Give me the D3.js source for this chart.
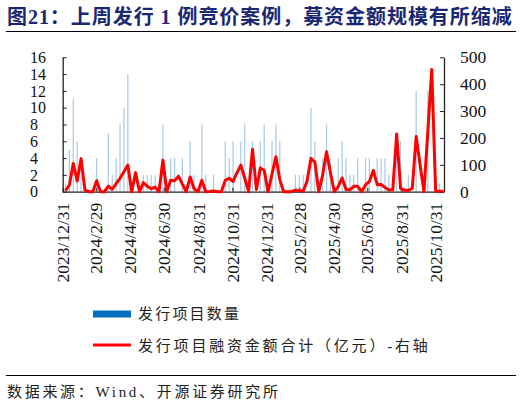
<!DOCTYPE html>
<html>
<head>
<meta charset="utf-8">
<script src="https://cdn.jsdelivr.net/npm/d3@7"></script>
<style>
  body { margin: 0; background: #fff; }
  svg { display: block; }
</style>
</head>
<body>
<svg id="chart" width="522" height="405"></svg>
<script>
// weekly issuance, Fridays from 2024-01-05 to 2025-11-14
const firstWeek = new Date(2024, 0, 5);
const lastWeek = new Date(2025, 10, 14);

// number of issued projects (left axis)
const projectCounts = [
  1, 5, 11, 6, 3, 0, 0, 0, 4, 0,
  0, 7, 2, 4, 8, 10, 14, 0, 0, 0,
  2, 2, 2, 2, 0, 8, 0, 4, 4, 0,
  4, 0, 6, 2, 0, 8, 2, 0, 2, 0,
  0, 6, 4, 6, 0, 6, 8, 0, 6, 0,
  6, 8, 0, 6, 8, 6, 0, 0, 0, 2,
  2, 2, 0, 10, 6, 0, 4, 8, 4, 0,
  4, 6, 4, 2, 2, 4, 0, 4, 4, 0,
  4, 4, 4, 2, 2, 5, 6, 0, 2, 0,
  12, 0, 0, 12, 0, 0, 1, 0
];

// total financing amount, 100 million yuan (right axis)
const financingAmounts = [
  4, 25, 105, 40, 123, 6, 0, 0, 41, 0,
  0, 21, 9, 30, 50, 74, 99, 0, 71, 0,
  34, 20, 11, 17, 0, 117, 0, 43, 41, 58,
  28, 0, 55, 11, 0, 42, 0, 1, 3, 0,
  0, 42, 50, 38, 70, 99, 50, 0, 158, 8,
  88, 80, 0, 65, 130, 45, 0, 0, 0, 6,
  4, 2, 40, 124, 110, 0, 62, 149, 70, 0,
  19, 51, 8, 7, 20, 20, 0, 25, 38, 79,
  26, 27, 16, 6, 7, 215, 12, 5, 5, 12,
  205, 100, 0, 225, 455, 2, 2, 2
];

const xTickLabels = [
  "2023/12/31", "2024/2/29", "2024/4/30", "2024/6/30", "2024/8/31", "2024/10/31",
  "2024/12/31", "2025/2/28", "2025/4/30", "2025/6/30", "2025/8/31", "2025/10/31"
];
const leftTicks = [0, 2, 4, 6, 8, 10, 12, 14, 16];
const rightTicks = [0, 100, 200, 300, 400, 500];

const titleText = "图21：上周发行 1 例竞价案例，募资金额规模有所缩减";
const legendLabels = ["发行项目数量", "发行项目融资金额合计（亿元）-右轴"];
const sourceText = "数据来源：Wind、开源证券研究所";

const weeks = d3.timeFriday.range(firstWeek, d3.timeDay.offset(lastWeek, 1));
const data = weeks.map((d, i) => ({ date: d, count: projectCounts[i], amount: financingAmounts[i] }));

const svg = d3.select("#chart");
const serif = "'Liberation Serif', 'Noto Sans CJK SC', serif";
const cjk = "'Liberation Serif', 'Noto Sans CJK SC', sans-serif";

// plot area
const plot = { left: 62.7, right: 444, top: 57.3, bottom: 191.7 };
const parse = d3.timeParse("%Y/%m/%d");

const x = d3.scaleTime()
  .domain([new Date(2023, 11, 31), new Date(2025, 10, 15)])
  .range([plot.left, plot.right]);
const yL = d3.scaleLinear().domain([0, 16]).range([plot.bottom, plot.top]);
const yR = d3.scaleLinear().domain([0, 500]).range([plot.bottom, plot.top]);

// title
svg.append("text")
  .attr("x", 7).attr("y", 23.5)
  .attr("font-family", cjk).attr("font-size", 20).attr("font-weight", "bold")
  .attr("letter-spacing", 0.95)
  .attr("fill", "#1a2874")
  .text(titleText);
svg.append("line")
  .attr("x1", 6).attr("x2", 516).attr("y1", 31.5).attr("y2", 31.5)
  .attr("stroke", "#000").attr("stroke-width", 1);

// bars
svg.append("g")
  .selectAll("rect")
  .data(data.filter(d => d.count > 0))
  .join("rect")
  .attr("x", d => x(d.date) - 0.6)
  .attr("width", 1.2)
  .attr("y", d => yL(d.count))
  .attr("height", d => yL(0) - yL(d.count))
  .attr("fill", "#a9c9e8");

// x axis
const xAxis = svg.append("g")
  .attr("transform", `translate(0,${plot.bottom})`)
  .call(d3.axisBottom(x)
    .tickValues(xTickLabels.map(parse))
    .tickFormat(d3.timeFormat("%Y/%-m/%-d"))
    .tickSizeInner(-4).tickSizeOuter(0));
xAxis.select(".domain").attr("stroke", "#222").attr("stroke-width", 1.3);
xAxis.selectAll(".tick line").attr("stroke", "#555").attr("stroke-width", 1.6);
xAxis.selectAll(".tick text")
  .attr("font-family", serif).attr("font-size", 17.5).attr("fill", "#111")
  .attr("transform", "rotate(-90)")
  .attr("text-anchor", "end")
  .attr("x", -11).attr("y", 0).attr("dy", "0.33em");

// left axis
const yAxisL = svg.append("g")
  .attr("transform", `translate(${plot.left},0)`)
  .call(d3.axisLeft(yL).tickValues(leftTicks).tickSizeInner(-4).tickSizeOuter(0));
yAxisL.select(".domain").attr("stroke", "#222").attr("stroke-width", 1.3);
yAxisL.selectAll(".tick line").attr("stroke", "#222");
yAxisL.selectAll(".tick text")
  .attr("font-family", serif).attr("font-size", 16).attr("fill", "#111")
  .attr("text-anchor", "start").attr("x", 30 - plot.left);

// right axis
const yAxisR = svg.append("g")
  .attr("transform", `translate(${plot.right},0)`)
  .call(d3.axisRight(yR).tickValues(rightTicks).tickSizeInner(-4).tickSizeOuter(0));
yAxisR.select(".domain").attr("stroke", "#222").attr("stroke-width", 1.3);
yAxisR.selectAll(".tick line").attr("stroke", "#222");
yAxisR.selectAll(".tick text")
  .attr("font-family", serif).attr("font-size", 17.5).attr("fill", "#111")
  .attr("text-anchor", "start").attr("x", 16);

// financing line
const line = d3.line()
  .x(d => x(d.date))
  .y(d => yR(d.amount));
svg.append("path")
  .datum(data)
  .attr("d", line)
  .attr("fill", "none")
  .attr("stroke", "#ff0000")
  .attr("stroke-width", 3)
  .attr("stroke-linejoin", "round");

// legend
svg.append("rect")
  .attr("x", 93).attr("y", 310.5).attr("width", 38).attr("height", 7)
  .attr("fill", "#0070c0");
svg.append("line")
  .attr("x1", 93).attr("x2", 131).attr("y1", 345).attr("y2", 345)
  .attr("stroke", "#ff0000").attr("stroke-width", 3);
svg.selectAll(".legend-text")
  .data(legendLabels)
  .join("text")
  .attr("class", "legend-text")
  .attr("x", 138)
  .attr("y", (d, i) => 319 + i * 32)
  .attr("font-family", cjk).attr("font-size", 15)
  .attr("letter-spacing", (d, i) => i === 0 ? 2.2 : 2.8)
  .attr("fill", "#222")
  .text(d => d);

// source
svg.append("line")
  .attr("x1", 6).attr("x2", 516).attr("y1", 375.5).attr("y2", 375.5)
  .attr("stroke", "#000").attr("stroke-width", 1);
svg.append("text")
  .attr("x", 7).attr("y", 397)
  .attr("font-family", cjk).attr("font-size", 15)
  .attr("letter-spacing", 2.7)
  .attr("fill", "#222")
  .text(sourceText);
</script>
</body>
</html>
